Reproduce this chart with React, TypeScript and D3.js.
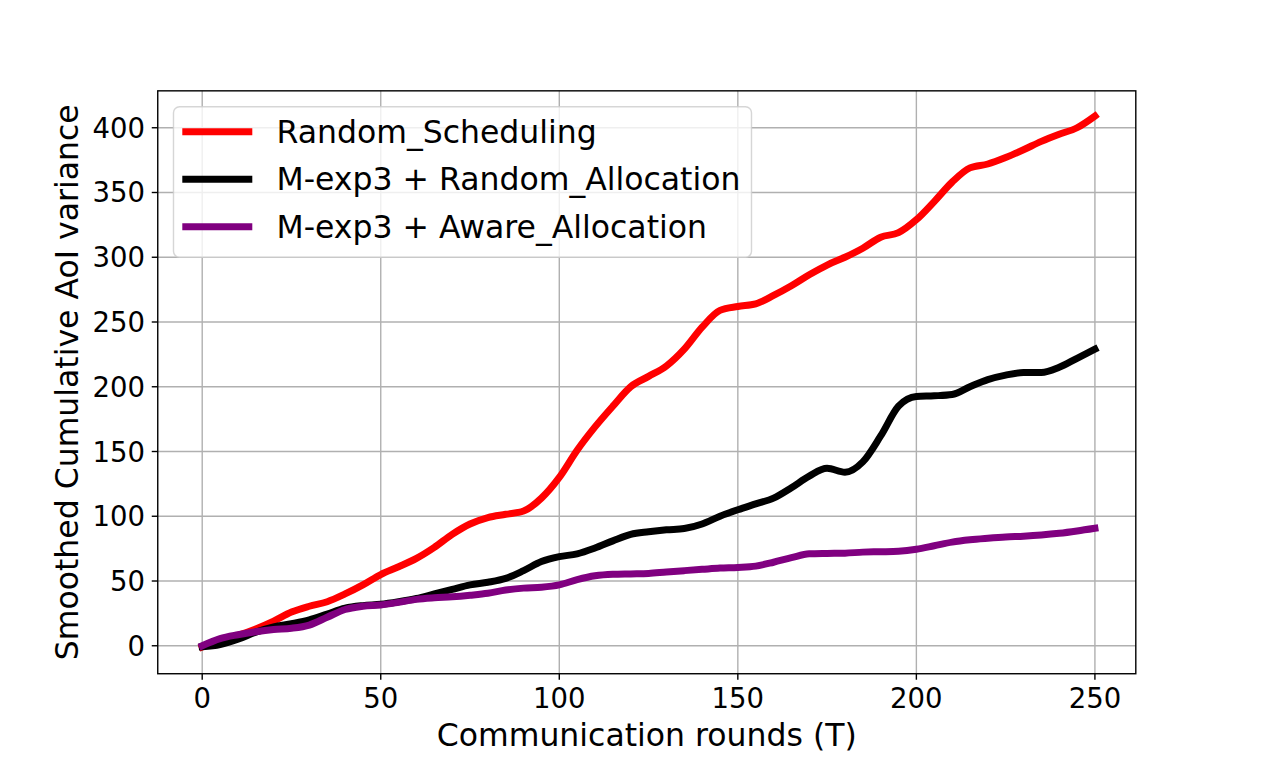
import { useMemo } from "react";
import * as d3 from "d3";

// Communication rounds, sampled every 5 rounds
const rounds = d3.range(0, 251, 5);

const randomScheduling = [
  -1, 4, 8, 13, 19, 26, 30.5, 34, 40, 47, 55, 61, 67.5, 76, 86, 94, 99, 101.5, 104, 114,
  130, 151, 169, 185, 200, 208, 216, 229, 246, 259, 262, 264, 270.5, 278, 286.5, 294, 300,
  307, 315.5, 319, 329, 343, 358, 369, 372, 377, 383, 389.5, 395, 400, 409,
];

const mexpRandom = [
  -0.8, 1, 5, 10.5, 14.5, 17, 20, 24.5, 29, 31, 32, 34, 36.5, 40, 43.5, 47, 49, 52, 58, 65,
  68.8, 71, 75.5, 81, 86, 88, 89.5, 90.5, 94, 100, 105, 109.5, 114, 122, 131, 137, 134, 142,
  162, 185, 192.5, 193, 194, 200, 205.5, 209, 211, 211, 215, 222, 229,
];

const mexpAware = [
  0, 5.5, 8.5, 10.8, 12.5, 13.5, 16, 22, 28, 30.5, 31.5, 33.5, 35.8, 37, 37.8, 39, 40.5, 43,
  44.5, 45.2, 47, 51, 54, 55.2, 55.5, 55.8, 57, 58, 59, 60, 60.5, 61.5, 64.5, 68, 71, 71.3,
  71.5, 72.3, 72.6, 73, 74.5, 77.2, 80, 81.8, 83, 84, 84.6, 85.5, 86.8, 88.6, 90.7,
];

const seriesNames = ["Random_Scheduling", "M-exp3 + Random_Allocation", "M-exp3 + Aware_Allocation"];
const seriesColors = ["#ff0000", "#000000", "#800080"];
const seriesValues = [randomScheduling, mexpRandom, mexpAware];

const xTicks = [0, 50, 100, 150, 200, 250];
const yTicks = [0, 50, 100, 150, 200, 250, 300, 350, 400];

const W = 1262;
const H = 757;
const FONT = "'DejaVu Sans', sans-serif";

export default function App() {
  // matplotlib default subplot box
  const left = W * 0.125;
  const right = W * 0.9;
  const top = H * 0.12;
  const bottom = H * 0.89;

  const x = useMemo(() => d3.scaleLinear().domain([-12.45, 261.45]).range([left, right]), []);
  const y = useMemo(() => d3.scaleLinear().domain([-21.6, 428.5]).range([bottom, top]), []);

  const line = d3
    .line<number>()
    .x((_, i) => x(rounds[i]))
    .y((d) => y(d))
    .curve(d3.curveMonotoneX);

  const legX = 173.5;
  const legY = 106.7;
  const rowY = (i: number) => 131.7 + i * 47.5;

  return (
    <svg
      width={W}
      height={H}
      style={{ position: "absolute", left: 0, top: 0, background: "#fff" }}
      fontFamily={FONT}
    >
      {/* grid */}
      <g stroke="#b0b0b0" strokeWidth={1.4}>
        {xTicks.map((t) => (
          <line key={`gx${t}`} x1={x(t)} x2={x(t)} y1={top} y2={bottom} />
        ))}
        {yTicks.map((t) => (
          <line key={`gy${t}`} x1={left} x2={right} y1={y(t)} y2={y(t)} />
        ))}
      </g>

      {/* series */}
      {seriesValues.map((vals, i) => (
        <path
          key={seriesNames[i]}
          d={line(vals) ?? ""}
          fill="none"
          stroke={seriesColors[i]}
          strokeWidth={7}
          strokeLinecap="square"
          strokeLinejoin="round"
        />
      ))}

      {/* spines */}
      <rect
        x={left}
        y={top}
        width={right - left}
        height={bottom - top}
        fill="none"
        stroke="#000"
        strokeWidth={1.4}
      />

      {/* x ticks */}
      {xTicks.map((t) => (
        <g key={`tx${t}`}>
          <line x1={x(t)} x2={x(t)} y1={bottom} y2={bottom + 6} stroke="#000" strokeWidth={1.4} />
          <text x={x(t)} y={708} textAnchor="middle" fontSize={27.5}>
            {t}
          </text>
        </g>
      ))}

      {/* y ticks */}
      {yTicks.map((t) => (
        <g key={`ty${t}`}>
          <line x1={left - 6} x2={left} y1={y(t)} y2={y(t)} stroke="#000" strokeWidth={1.4} />
          <text x={145} y={y(t) + 10} textAnchor="end" fontSize={27.5}>
            {t}
          </text>
        </g>
      ))}

      {/* axis labels */}
      <text x={(left + right) / 2} y={746} textAnchor="middle" fontSize={31.5}>
        Communication rounds (T)
      </text>
      <text
        transform={`translate(77.5, ${(top + bottom) / 2}) rotate(-90)`}
        textAnchor="middle"
        fontSize={31.5}
      >
        Smoothed Cumulative AoI variance
      </text>

      {/* legend */}
      <rect
        x={legX}
        y={legY}
        width={578}
        height={150.6}
        rx={6}
        fill="#fff"
        fillOpacity={0.8}
        stroke="#cccccc"
        strokeOpacity={0.8}
        strokeWidth={1.4}
      />
      {seriesNames.map((name, i) => (
        <g key={`leg${name}`}>
          <line
            x1={185.8}
            x2={248.8}
            y1={rowY(i)}
            y2={rowY(i)}
            stroke={seriesColors[i]}
            strokeWidth={7}
            strokeLinecap="square"
          />
          <text x={276.5} y={rowY(i) + 11} fontSize={31.5}>
            {name}
          </text>
        </g>
      ))}
    </svg>
  );
}
